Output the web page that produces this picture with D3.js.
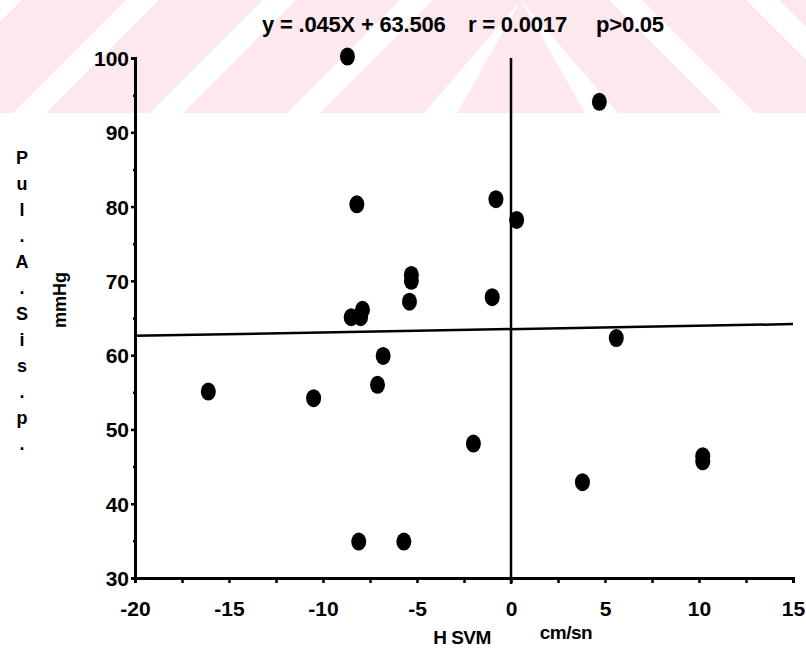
<!DOCTYPE html>
<html>
<head>
<meta charset="utf-8">
<script src="https://cdn.jsdelivr.net/npm/d3@7"></script>
<style>
  body { margin: 0; background: #fff; }
  text { font-family: 'Liberation Sans', Arial, sans-serif; font-weight: bold; fill: #000; }
</style>
</head>
<body>
<div id="content"></div>
<script>
// data
var hsvm = [-8.7, 4.7, -8.2, -0.8, 0.3, -5.3, -5.3, -5.4, -1.0, -8.5, -8.0, -7.9, -6.8, -16.1, -7.1, -10.5, -2.0, -8.1, -5.7, 5.6, 3.8, 10.2, 10.2]
var pasp = [100.2, 94.1, 80.3, 81.0, 78.2, 70.8, 70.0, 67.2, 67.8, 65.1, 65.1, 66.1, 59.9, 55.1, 56.0, 54.2, 48.1, 34.9, 34.9, 62.3, 42.9, 46.4, 45.7]
var xTicks = [-20, -15, -10, -5, 0, 5, 10, 15]
var yTicks = [30, 40, 50, 60, 70, 80, 90, 100]
var slope = 0.045, intercept = 63.506
var title = ['y = .045X + 63.506', 'r = 0.0017', 'p>0.05']
var yLetters = ['P', 'u', 'l', '.', 'A', '.', 'S', 'i', 's', '.', 'p', '.']

var width = 806, height = 663

var svg = d3.select('#content')
    .append('svg')
    .attr('width', width)
    .attr('height', height)

// pink watermark band at the top of the scan
svg.append('defs').append('clipPath')
    .attr('id', 'wm')
    .append('rect')
    .attr('width', width)
    .attr('height', 113)
var wm = svg.append('g').attr('clip-path', 'url(#wm)')
var mid = 521, bandH = 113
d3.range(-4, 4).forEach(function (k) {
    var x0 = 46 + k * 137
    var band = [[x0, bandH], [x0 + 104, bandH], [x0 + 104 + bandH, 0], [x0 + bandH, 0]]
    wm.append('polygon')
        .attr('points', band.map(p => [Math.min(p[0], mid), p[1]]).join(' '))
        .attr('fill', '#fce8ed')
    wm.append('polygon')
        .attr('points', band.map(p => [Math.max(2 * mid - p[0], mid), p[1]]).join(' '))
        .attr('fill', '#fce8ed')
})

var x = d3.scaleLinear().domain([-20, 15]).range([135, 793])
var y = d3.scaleLinear().domain([30, 100]).range([578, 58])

// axes
var xAxis = svg.append('g')
    .attr('transform', 'translate(0,' + y(30) + ')')
    .call(d3.axisBottom(x).tickValues(d3.range(-20, 15.1, 2.5)).tickSize(5).tickPadding(18)
        .tickFormat(d => xTicks.indexOf(d) >= 0 ? d : ''))
var yAxis = svg.append('g')
    .attr('transform', 'translate(' + x(-20) + ',0)')
    .call(d3.axisLeft(y).tickValues(yTicks).tickSize(4).tickPadding(2))
svg.append('g')
    .attr('transform', 'translate(' + x(-20) + ',0)')
    .call(d3.axisLeft(y).tickValues(d3.range(35, 100, 10)).tickSize(2).tickFormat(''))
    .select('.domain').remove()

svg.selectAll('.domain').attr('stroke', '#000').attr('stroke-width', 3)
svg.selectAll('.tick line').attr('stroke', '#000').attr('stroke-width', 2.5)
xAxis.selectAll('text').style('font-size', '21px')
yAxis.selectAll('text').style('font-size', '21px').attr('dy', '0.36em')

// reference line at x = 0 and the fit line
svg.append('line')
    .attr('x1', x(0)).attr('x2', x(0))
    .attr('y1', y(100)).attr('y2', y(30) + 6)
    .attr('stroke', '#000').attr('stroke-width', 2.5)
svg.append('line')
    .attr('x1', x(-20)).attr('x2', x(15))
    .attr('y1', y(intercept + slope * -20)).attr('y2', y(intercept + slope * 15))
    .attr('stroke', '#000').attr('stroke-width', 2.5)

// points
svg.append('g')
    .selectAll('ellipse')
    .data(hsvm.map((d, i) => ({x: d, y: pasp[i]})))
    .join('ellipse')
    .attr('cx', d => x(d.x))
    .attr('cy', d => y(d.y))
    .attr('rx', 7.5)
    .attr('ry', 9)
    .attr('fill', '#000')

// texts
svg.append('g')
    .selectAll('text')
    .data(title)
    .join('text')
    .text(d => d)
    .attr('x', (d, i) => [262, 468, 596][i])
    .attr('y', 32)
    .style('font-size', '22px')
    .style('letter-spacing', '-0.2px')

svg.append('text')
    .text('H SVM')
    .attr('x', 462).attr('y', 644)
    .attr('text-anchor', 'middle')
    .style('font-size', '19px')
    .style('letter-spacing', '-0.5px')
svg.append('text')
    .text('cm/sn')
    .attr('x', 566).attr('y', 639)
    .attr('text-anchor', 'middle')
    .style('font-size', '19px')
    .style('letter-spacing', '-0.5px')

svg.append('text')
    .text('mmHg')
    .attr('transform', 'translate(66,300) rotate(-90)')
    .attr('text-anchor', 'middle')
    .style('font-size', '18px')

svg.append('g')
    .selectAll('text')
    .data(yLetters)
    .join('text')
    .text(d => d)
    .attr('x', 22)
    .attr('y', (d, i) => 164 + i * 26)
    .attr('text-anchor', 'middle')
    .style('font-size', '18px')
</script>
</body>
</html>
